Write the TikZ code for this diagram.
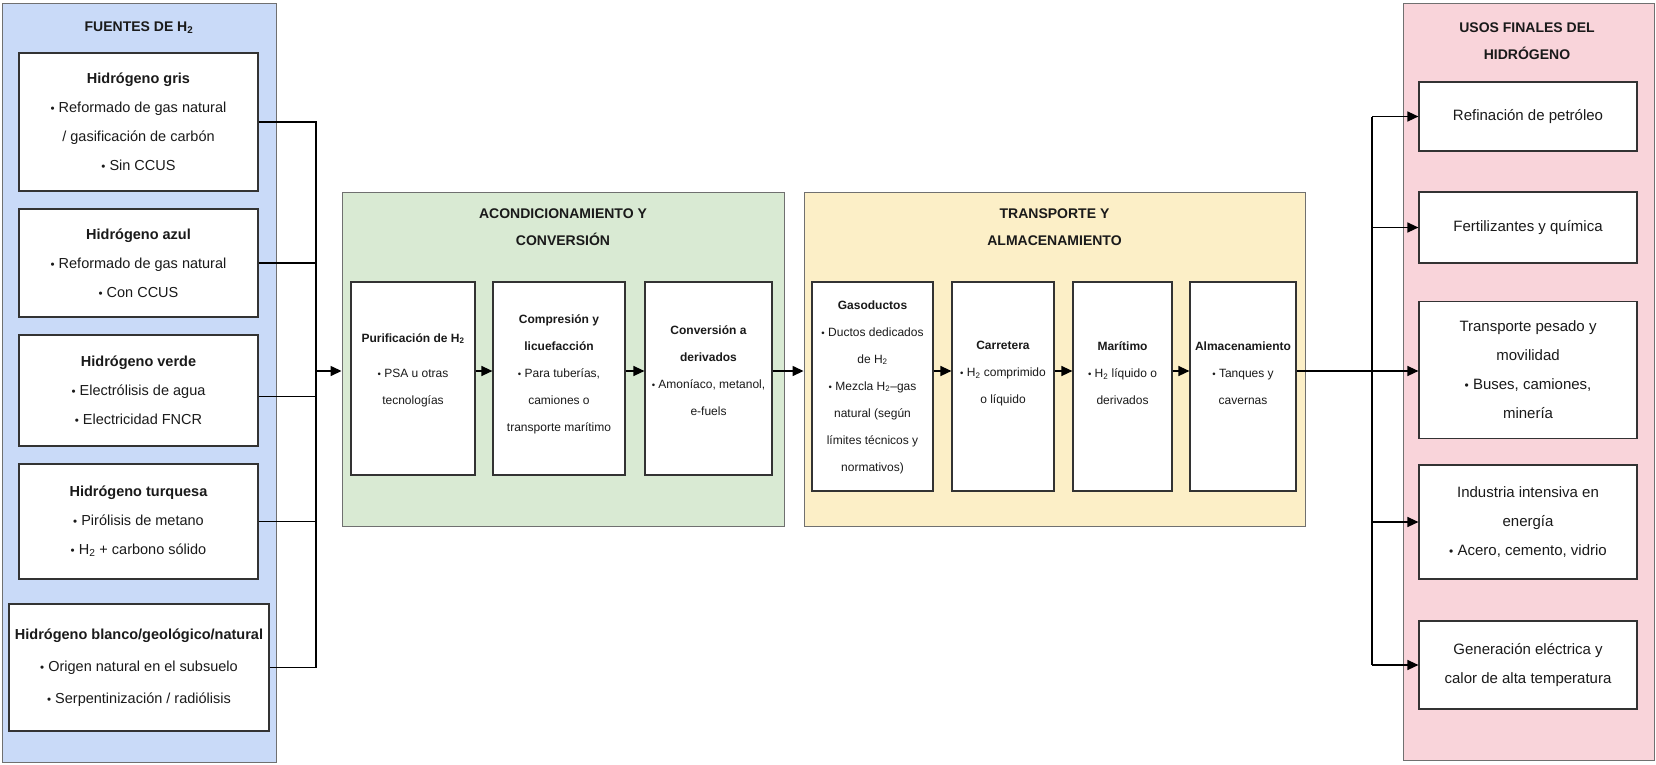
\documentclass[tikz,border=0pt]{standalone}
\usepackage{fontspec}
\usepackage{graphicx}
\setmainfont{Liberation Sans}
\usetikzlibrary{arrows.meta}
\definecolor{pblue}{HTML}{C9DAF8}
\definecolor{pgreen}{HTML}{D9EAD3}
\definecolor{pyellow}{HTML}{FCEFC7}
\definecolor{ppink}{HTML}{F9D4DA}
\definecolor{edgec}{HTML}{333333}
\definecolor{pedge}{HTML}{707070}
\definecolor{txtc}{HTML}{1A1A1A}
\newcommand\bu{\scalebox{0.8}{\textbullet}\ }
\newcommand\hh{H\textsubscript{2}}
\begin{document}
\begin{tikzpicture}[x=1pt,y=-1pt,
 panel/.style={draw=pedge, line width=0.9pt, inner sep=0pt},
 box/.style={draw=edgec, fill=white, line width=1.2pt, inner sep=0pt, text=txtc},
 ltxt/.style={align=center, font=\fontsize{14.5}{29}\selectfont},
 stxt/.style={align=center, inner sep=0pt, text=txtc, font=\fontsize{12}{27}\selectfont},
 rtxt/.style={align=center, font=\fontsize{15}{29}\selectfont},
 ttl/.style={align=center, inner sep=0pt, text=txtc, font=\fontsize{14}{26.5}\selectfont\bfseries},
 conn/.style={draw=black, line width=1.4pt},
 arr/.style={conn, -{Triangle[length=11pt,width=10pt]}},
]
\useasboundingbox (0,0) rectangle (1656,764);

% panels
\node[panel, fill=pblue, minimum width=274, minimum height=759] (bp) at (139,382.5) {};
\node[panel, fill=pgreen, minimum width=442, minimum height=334] (gp) at (563,359) {};
\node[panel, fill=pyellow, minimum width=501, minimum height=334] (yp) at (1054.5,359) {};
\node[panel, fill=ppink, minimum width=251, minimum height=757] (pp) at (1528.5,381.5) {};

% panel titles
\node[ttl] (tb) at (139,28) {FUENTES DE \hh};
\node[ttl] (tg) at (563,227) {ACONDICIONAMIENTO Y\\CONVERSIÓN};
\node[ttl] (ty) at (1054.5,227) {TRANSPORTE Y\\ALMACENAMIENTO};
\node[ttl] (tp) at (1527,41) {USOS FINALES DEL\\HIDRÓGENO};

% sources
\node[box, ltxt, minimum width=239, minimum height=138] (b1) at (138.5,122)
 {\textbf{Hidrógeno gris}\\\bu Reformado de gas natural\\/ gasificación de carbón\\\bu Sin CCUS};
\node[box, ltxt, minimum width=239, minimum height=108] (b2) at (138.5,263)
 {\textbf{Hidrógeno azul}\\\bu Reformado de gas natural\\\bu Con CCUS};
\node[box, ltxt, minimum width=239, minimum height=111] (b3) at (138.5,390.5)
 {\textbf{Hidrógeno verde}\\\bu Electrólisis de agua\\\bu Electricidad FNCR};
\node[box, ltxt, minimum width=239, minimum height=115] (b4) at (138.5,521.5)
 {\textbf{Hidrógeno turquesa}\\\bu Pirólisis de metano\\\bu \hh{} + carbono sólido};
\node[box, align=center, font=\fontsize{14.5}{32}\selectfont, minimum width=260, minimum height=127] (b5) at (139,667.5)
 {\textbf{Hidrógeno blanco/geológico/natural}\\\bu Origen natural en el subsuelo\\\bu Serpentinización / radiólisis};

% conditioning
\node[box, minimum width=124, minimum height=193] (A) at (413,378.5) {};
\node[box, minimum width=132, minimum height=193] (B) at (559,378.5) {};
\node[box, minimum width=127, minimum height=193] (C) at (708.5,378.5) {};
\node[stxt] (tA) at (413,370) {\textbf{Purificación de \hh}\\[8pt]\bu PSA u otras\\tecnologías};
\node[stxt] (tB) at (559,374) {\textbf{Compresión y}\\\textbf{licuefacción}\\\bu Para tuberías,\\camiones o\\transporte marítimo};
\node[stxt] (tC) at (708.5,370.5) {\textbf{Conversión a}\\\textbf{derivados}\\\bu Amoníaco, metanol,\\e-fuels};

% transport
\node[box, minimum width=121, minimum height=209] (D) at (872.5,386.5) {};
\node[box, minimum width=102, minimum height=209] (E) at (1003,386.5) {};
\node[box, minimum width=99, minimum height=209] (F) at (1122.5,386.5) {};
\node[box, minimum width=106, minimum height=209] (G) at (1243,386.5) {};
\node[stxt] (tD) at (872.5,387) {\textbf{Gasoductos}\\\bu Ductos dedicados\\de \hh\\\bu Mezcla \hh–gas\\natural (según\\límites técnicos y\\normativos)};
\node[stxt] (tE) at (1003,373.5) {\textbf{Carretera}\\\bu \hh{} comprimido\\o líquido};
\node[stxt] (tF) at (1122.5,373.5) {\textbf{Marítimo}\\\bu \hh{} líquido o\\derivados};
\node[stxt] (tG) at (1243,373.5) {\textbf{Almacenamiento}\\\bu Tanques y\\cavernas};

% end uses
\node[box, rtxt, minimum width=218, minimum height=69] (u1) at (1528,116.5) {Refinación de petróleo};
\node[box, rtxt, minimum width=218, minimum height=71] (u2) at (1528,227.5) {Fertilizantes y química};
\node[box, rtxt, minimum width=218, minimum height=137] (u3) at (1528,370) {Transporte pesado y\\movilidad\\\bu Buses, camiones,\\minería};
\node[box, rtxt, minimum width=218, minimum height=114] (u4) at (1528,522) {Industria intensiva en\\energía\\\bu Acero, cemento, vidrio};
\node[box, rtxt, minimum width=218, minimum height=88] (u5) at (1528,665) {Generación eléctrica y\\calor de alta temperatura};

% connectors
\coordinate (busL) at (316,371);
\coordinate (busR) at (1372,371);
\foreach \b in {b1,b2,b4,b5} \draw[conn] (\b.east) -| (busL);
\draw[conn] ([yshift=-6pt]b3.east) -| (busL);
\draw[arr] (busL) -- (gp.west |- busL);
\draw[arr] (A.east |- busL) -- (B.west |- busL);
\draw[arr] (B.east |- busL) -- (C.west |- busL);
\draw[arr] (C.east |- busL) -- (yp.west |- busL);
\draw[arr] (D.east |- busL) -- (E.west |- busL);
\draw[arr] (E.east |- busL) -- (F.west |- busL);
\draw[arr] (F.east |- busL) -- (G.west |- busL);
\draw[conn] (G.east |- busR) -- (busR);
\draw[conn] (busR |- u1.west) -- (busR |- u5.west);
\foreach \u in {u1,u2,u4,u5} \draw[arr] (busR |- \u.west) -- (\u.west);
\draw[arr] (busR) -- (u3.west |- busR);
\end{tikzpicture}
\end{document}
